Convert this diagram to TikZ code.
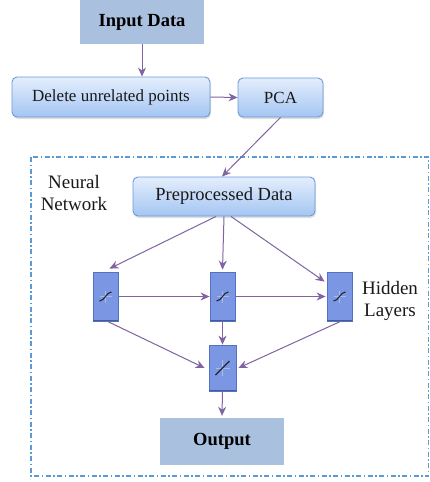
\documentclass[tikz,border=0pt]{standalone}
\usepackage{fontspec}
\setmainfont{Liberation Serif}
\usetikzlibrary{arrows.meta,shadows,calc}
\definecolor{flatbox}{HTML}{A9C0DE}
\definecolor{gradtop}{HTML}{E4EEFC}
\definecolor{gradbot}{HTML}{A4C5F3}
\definecolor{gradline}{HTML}{6A9AD8}
\definecolor{neufill}{HTML}{7B97E3}
\definecolor{neuline}{HTML}{5572C2}
\definecolor{arrowc}{HTML}{8064A2}
\definecolor{framec}{HTML}{5B9BD5}
\tikzset{
  flat/.style={fill=flatbox, draw=none, font=\fontsize{18.5}{21}\selectfont\bfseries, text=black},
  roundbox/.style={rounded corners=5pt, top color=gradtop, bottom color=gradbot, draw=gradline, line width=0.9pt,
     drop shadow={opacity=0.25, shadow xshift=1pt, shadow yshift=-2pt},
     font=\fontsize{17}{20}\selectfont, text=black!90},
  neuron/.style={fill=neufill, draw=neuline, line width=0.8pt, minimum width=25pt, minimum height=49pt, inner sep=0pt},
  conn/.style={draw=arrowc, line width=1pt, -{Stealth[length=9pt,width=8pt]}},
  label/.style={font=\fontsize{19}{22}\selectfont, align=center, text=black!90},
  sig/.style={line width=1.1pt, black!85},
  crossl/.style={white, opacity=0.35, line width=0.6pt}
}
\begin{document}
\begin{tikzpicture}[x=1pt,y=-1pt]
\useasboundingbox[fill=white] (0,0) rectangle (430,482);
% frame
\draw[framec, line width=1.1pt, dash pattern=on 5pt off 2.5pt on 1.5pt off 2.5pt] (31,157) rectangle (428.5,476);

\node[flat, minimum width=124pt, minimum height=44pt] (in) at (142,22) {Input Data};
\node[roundbox, minimum width=198pt, minimum height=40pt] (del) at (111,97) {Delete unrelated points};
\node[roundbox, minimum width=85pt, minimum height=39pt] (pca) at (280.5,97.5) {PCA};
\node[roundbox, minimum width=182pt, minimum height=39pt, font=\fontsize{18.5}{21}\selectfont] (pre) at (224,196.5) {Preprocessed Data};

\node[label] (nn) at (74,193) {Neural\\Network};
\node[label] (hl) at (390,301) {Hidden\\Layers};

\node[neuron] (n1) at (105.5,296.5) {};
\node[neuron] (n2) at (222.5,296.5) {};
\node[neuron] (n3) at (339.5,296.5) {};
\node[neuron, minimum width=27pt, minimum height=46pt] (no) at (222.5,368) {};

\node[flat, minimum width=124pt, minimum height=47pt] (out) at (222,441.5) {Output};

% neuron glyphs and darker bottom edges
\foreach \n in {n1,n2,n3,no}{
  \draw[neuline!80!black, line width=1.6pt] ([shift={(0.8,-1)}]\n.south west) -- ([shift={(-0.8,-1)}]\n.south east);
}
\foreach \n in {n1,n2,n3}{
  \draw[crossl] ([shift={(-6,0)}]\n.center) -- ([shift={(6,0)}]\n.center);
  \draw[crossl] ([shift={(0,-6)}]\n.center) -- ([shift={(0,6)}]\n.center);
  \draw[sig] ([shift={(-6,4.5)}]\n.center) .. controls ([shift={(-1,4.5)}]\n.center) and ([shift={(1,-4.5)}]\n.center) .. ([shift={(6,-4.5)}]\n.center);
}
\draw[crossl] ([shift={(-7,0)}]no.center) -- ([shift={(7,0)}]no.center);
\draw[crossl] ([shift={(0,-8)}]no.center) -- ([shift={(0,8)}]no.center);
\draw[sig] ([shift={(-7,7)}]no.center) -- ([shift={(7,-7)}]no.center);

% connectors
\draw[conn] (in.south) -- (del.north -| in.south);
\draw[conn] (del.east) -- (pca.west);
\draw[conn] (pca.south) -- ([xshift=-2pt]pre.north);
\draw[conn] ([xshift=-8pt]pre.south) -- ([xshift=4pt,yshift=3pt]n1.north);
\draw[conn] (pre.south) -- ([yshift=2pt]n2.north);
\draw[conn] ([xshift=7pt]pre.south) -- ([yshift=-10pt,xshift=-2pt]n3.north west);
\draw[conn] (n1.east) -- (n2.west);
\draw[conn] (n2.east) -- ([xshift=-1pt]n3.west);
\draw[conn] ([xshift=2pt]n1.south) -- ([xshift=-4pt]no.west);
\draw[conn] (n2.south) -- (no.north);
\draw[conn] ([xshift=1pt]n3.south) -- ([xshift=2pt]no.east);
\draw[conn] (no.south) -- ([yshift=2pt]out.north);
\end{tikzpicture}
\end{document}
